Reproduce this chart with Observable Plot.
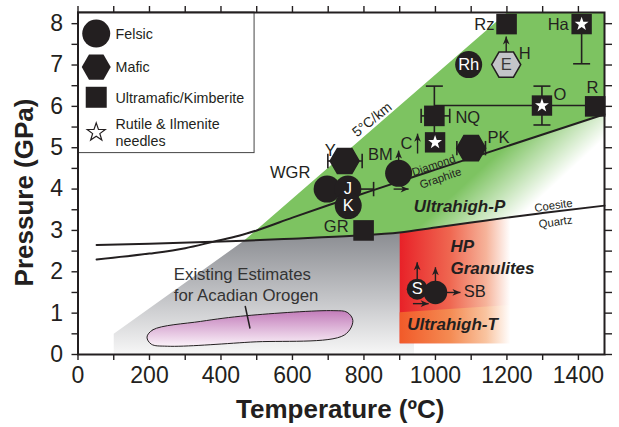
<!DOCTYPE html>
<html><head><meta charset="utf-8">
<script src="https://cdn.jsdelivr.net/npm/d3@7"></script>
<script src="https://cdn.jsdelivr.net/npm/@observablehq/plot@0.6"></script>
<style>body{margin:0;background:#fff} #chart{width:619px;height:427px}</style>
</head><body><div id="chart"></div>
<script>
// ---------- data (Temperature °C, Pressure GPa) ----------
const xDomain = [0, 1473];
const yDomain = [0, 8.27];
const xTickLabels = [0, 200, 400, 600, 800, 1000, 1200, 1400];
const yTickLabels = [0, 1, 2, 3, 4, 5, 6, 7, 8];

const diamondGraphite = [[52,2.30],[200,2.44],[300,2.57],[380,2.73],[450,2.87],[500,3.00],[600,3.31],[700,3.61],[818,3.95],[1000,4.47],[1473,5.81]];
const coesiteQuartz = [[52,2.65],[200,2.68],[400,2.73],[464,2.75],[600,2.80],[771,2.87],[900,2.95],[1000,3.07],[1100,3.19],[1200,3.31],[1300,3.42],[1473,3.60]];
const geotherm5 = [[464,2.75],[1200,8.27]];
const frameTopRight = [[1473,8.27]];
const grayRegion = [[100,0],[100,0.5],[464,2.75],[600,2.80],[771,2.87],[900,2.95],[940,2.99],[940,0]];
const hpGranulite = [[900,0.27],[900,2.95],[1000,3.07],[1100,3.19],[1210,3.32],[1210,0.27]];
const uhtRegion = [[900,0.27],[900,1.02],[1210,1.20],[1210,0.27]];
const acadian = [[193,0.42],[210,0.60],[343,0.80],[473,0.94],[716,1.06],[753,1.02],[769,0.82],[745,0.47],[482,0.30],[250,0.20],[205,0.25]];
const acadianPointer = [[468,1.16],[481,0.64]];

const felsic = [
  {id:"WGR", T:697, P:4.00}, {id:"J", T:755, P:4.00}, {id:"K", T:756, P:3.60},
  {id:"BM", T:897, P:4.38}, {id:"Rh", T:1093, P:7.01}
];
const felsicS = [{id:"S", T:949, P:1.58}];
const felsicSB = [{id:"SB", T:1000, P:1.50}];
const mafic = [{id:"Y", T:746, P:4.68}, {id:"PK", T:1100, P:4.99}, {id:"E", T:1198, P:7.01}];
const ultramafic = [{id:"GR", T:799, P:3.00}, {id:"NQ", T:997, P:5.77}, {id:"R", T:1447, P:6.00}, {id:"Rz", T:1199, P:7.99}];
const needles = [{id:"C", T:999, P:5.13}, {id:"O", T:1298, P:6.02}, {id:"Ha", T:1409, P:7.99}];

const errH = [{T1:699, T2:795, P:4.68}, {T1:755, T2:827, P:4.00}, {T1:960, T2:1040, P:5.77}, {T1:1060, T2:1140, P:4.99}];
const errV = [{T:997, P1:5.13, P2:6.49}, {T:1298, P1:5.55, P2:6.49}, {T:1409, P1:7.03, P2:7.99}];
const tieLine = [{T1:997, T2:1447, P:6.02}];

const arrows = [
  {T1:897, P1:4.38, T2:897, P2:4.93, dir:"up"},
  {T1:883, P1:4.00, T2:925, P2:4.00, dir:"right"},
  {T1:950, P1:4.86, T2:950, P2:5.34, dir:"up"},
  {T1:1198, P1:7.01, T2:1198, P2:7.69, dir:"up"},
  {T1:949, P1:1.58, T2:949, P2:2.23, dir:"up"},
  {T1:1000, P1:1.50, T2:1000, P2:2.11, dir:"up"},
  {T1:937, P1:1.23, T2:981, P2:1.23, dir:"right"},
  {T1:1000, P1:1.50, T2:1070, P2:1.50, dir:"right"}
];

const pointLabels = [
  {text:"WGR", T:650, P:4.39, anchor:"end"}, {text:"Y", T:706, P:4.93, anchor:"middle"},
  {text:"BM", T:846, P:4.84, anchor:"middle"}, {text:"GR", T:757, P:3.10, anchor:"end"},
  {text:"C", T:919, P:5.10, anchor:"middle"}, {text:"NQ", T:1056, P:5.72, anchor:"start"},
  {text:"PK", T:1146, P:5.24, anchor:"start"}, {text:"O", T:1348, P:6.29, anchor:"middle"},
  {text:"R", T:1439, P:6.44, anchor:"middle"}, {text:"Rz", T:1165, P:7.98, anchor:"end"},
  {text:"Ha", T:1373, P:7.98, anchor:"end"}, {text:"H", T:1250, P:7.28, anchor:"middle"},
  {text:"SB", T:1079, P:1.51, anchor:"start"}
];
const innerLabels = [{text:"J", T:755, P:4.0}, {text:"K", T:756, P:3.6}, {text:"Rh", T:1093, P:7.01}, {text:"S", T:949, P:1.58}];
const grayInnerLabels = [{text:"E", T:1198, P:7.01}];
const regionLabels = [
  {text:"Ultrahigh-P", T:939, P:3.58}, {text:"HP", T:1042, P:2.62},
  {text:"Granulites", T:1042, P:2.09}, {text:"Ultrahigh-T", T:921, P:0.72}
];
const lineLabels = [
  {text:"Diamond", T:995, P:4.57, angle:-19}, {text:"Graphite", T:1014, P:4.26, angle:-19},
  {text:"Coesite", T:1330, P:3.60, angle:-8}, {text:"Quartz", T:1336, P:3.20, angle:-8}
];
const geothermLabel = [{text:"5°C/km", T:823, P:5.68, angle:-39}];
const acadianLabel = [{text:"Existing Estimates\nfor Acadian Orogen", T:268, P:1.71}];

// legend layout (data units of the plot)
const legendBox = [{T1:0, T2:494, P1:4.87, P2:8.27}];
const legendItems = [
  {label:"Felsic", kind:"felsic", P:7.76},
  {label:"Mafic", kind:"mafic", P:6.95},
  {label:"Ultramafic/Kimberite", kind:"ultramafic", P:6.22},
  {label:"Rutile & Ilmenite\nneedles", kind:"needle", P:5.37}
];
const legendSymbolT = 51, legendTextT = 105;

// ---------- symbols ----------
const hexFlat = {draw(c, s){const R=Math.sqrt(s/Math.PI); for(let i=0;i<6;i++){const a=i*Math.PI/3; const x=R*Math.cos(a), y=R*Math.sin(a); i?c.lineTo(x,y):c.moveTo(x,y);} c.closePath();}};
const squareSym = {draw(c, s){const R=Math.sqrt(s/Math.PI); c.moveTo(-R,-R); c.lineTo(R,-R); c.lineTo(R,R); c.lineTo(-R,R); c.closePath();}};
const starSym = {draw(c, s){const R=Math.sqrt(s/Math.PI), r=R*0.4; for(let i=0;i<10;i++){const a=-Math.PI/2+i*Math.PI/5; const rr=i%2?r:R; const x=rr*Math.cos(a), y=rr*Math.sin(a); i?c.lineTo(x,y):c.moveTo(x,y);} c.closePath();}};
const vCap = {draw(c, s){const R=Math.sqrt(s/Math.PI); c.moveTo(0,-R); c.lineTo(0,R);}};
const hCap = {draw(c, s){const R=Math.sqrt(s/Math.PI); c.moveTo(-R,0); c.lineTo(R,0);}};
const headSym = {draw(c, s){const L=Math.sqrt(s/Math.PI); c.moveTo(0,0); c.lineTo(L*0.42,L); c.lineTo(0,L*0.72); c.lineTo(-L*0.42,L); c.closePath();}};

const INK = "#231f20";
const FONT = "'Liberation Sans', Arial, Helvetica, sans-serif";
const GREEN = "#7dc361";

// ---------- derived polygons ----------
const uhpRegion = [...coesiteQuartz.filter(d=>d[0]>=464), ...frameTopRight, geotherm5[1]];
const fadeRegion = [...diamondGraphite.filter(d=>d[0]>=450), ...coesiteQuartz.filter(d=>d[0]>=464).reverse()];

function defs(index, scales) {
  const d = d3.create("svg:defs");
  const lin = (id, x1, y1, x2, y2, stops, units) => {
    const g = d.append("linearGradient").attr("id", id)
      .attr("x1", x1).attr("y1", y1).attr("x2", x2).attr("y2", y2);
    if (units) g.attr("gradientUnits", units);
    for (const [o, c, op] of stops) g.append("stop").attr("offset", o).attr("stop-color", c).attr("stop-opacity", op ?? 1);
  };
  lin("grayG", 0, 0, 0, 1, [[0,"#898b90"],[0.55,"#c4c5c8"],[1,"#f7f7f7"]]);
  lin("redG", 0, 0, 1, 0, [[0,"#e82128"],[0.45,"#ef6650"],[0.78,"#f6b39a"],[1,"#ffffff"]]);
  lin("orangeG", 0, 0, 1, 0, [[0,"#f15a29"],[0.45,"#f48a52"],[0.78,"#f9c4a0"],[1,"#ffffff"]]);
  lin("purpleG", 0, 0, 0, 1, [[0,"#c27cba"],[1,"#fbf2f9"]]);
  lin("fadeG", scales.x(1039), scales.y(3.78), scales.x(1156), scales.y(2.69),
      [[0,"#ffffff",0],[1,"#ffffff",1]], "userSpaceOnUse");
  return d.node();
}

const poly = (data, fill, extra={}) => Plot.line(data, {x: d=>d[0], y: d=>d[1], fill, stroke: "none", ...extra});
const legendOf = kind => legendItems.filter(d => d.kind === kind);
const labelsAnchored = a => Plot.text(pointLabels.filter(d => d.anchor === a), {x:"T", y:"P", text:"text", textAnchor: a, fill: INK, fontSize: 16.5});

const plot = Plot.plot({
  width: 619, height: 427,
  marginLeft: 77.5, marginRight: 15, marginTop: 12, marginBottom: 73,
  x: {domain: xDomain, label: null},
  y: {domain: yDomain, label: null},
  style: {fontFamily: FONT, background: "white", color: INK},
  marks: [
    defs,
    poly(grayRegion, "url(#grayG)"),
    poly(uhpRegion, GREEN),
    poly(fadeRegion, "url(#fadeG)"),
    poly(hpGranulite, "url(#redG)"),
    poly(uhtRegion, "url(#orangeG)"),
    Plot.line(acadian, {x: d=>d[0], y: d=>d[1], curve: "catmull-rom-closed", fill: "url(#purpleG)", stroke: INK, strokeWidth: 1}),
    Plot.line(acadianPointer, {x: d=>d[0], y: d=>d[1], stroke: INK, strokeWidth: 1.5}),
    Plot.line(coesiteQuartz, {x: d=>d[0], y: d=>d[1], curve: "monotone-x", stroke: INK, strokeWidth: 2}),
    Plot.line(diamondGraphite, {x: d=>d[0], y: d=>d[1], curve: "monotone-x", stroke: INK, strokeWidth: 2}),

    // legend
    Plot.rect(legendBox, {x1:"T1", x2:"T2", y1:"P1", y2:"P2", fill:"white", stroke:"#444", strokeWidth:1}),
    Plot.dot(legendOf("felsic"), {x: () => legendSymbolT, y: "P", r: 14, fill: INK}),
    Plot.dot(legendOf("mafic"), {x: () => legendSymbolT, y: "P", symbol: hexFlat, r: 14.5, fill: INK}),
    Plot.dot(legendOf("ultramafic"), {x: () => legendSymbolT, y: "P", symbol: squareSym, r: 10.5, fill: INK}),
    Plot.dot(legendOf("needle"), {x: () => legendSymbolT, y: "P", symbol: starSym, r: 9.5, fill: "white", stroke: INK, strokeWidth: 1.2}),
    Plot.text(legendItems, {x: () => legendTextT, y: "P", text: "label", textAnchor: "start", fontSize: 14.3, lineHeight: 1.17, fill: INK}),

    // error bars & tie line
    Plot.link(tieLine, {x1:"T1", x2:"T2", y1:"P", y2:"P", stroke: INK, strokeWidth: 1.6}),
    Plot.link(errH, {x1:"T1", x2:"T2", y1:"P", y2:"P", stroke: INK, strokeWidth: 1.6}),
    Plot.link(errV, {x1:"T", x2:"T", y1:"P1", y2:"P2", stroke: INK, strokeWidth: 1.6}),
    Plot.dot(errH.flatMap(d => [{T:d.T1, P:d.P}, {T:d.T2, P:d.P}]), {x:"T", y:"P", symbol: vCap, r: 7.2, stroke: INK, strokeWidth: 1.6, fill: "none"}),
    Plot.dot(errV.flatMap(d => [{T:d.T, P:d.P1}, {T:d.T, P:d.P2}]), {x:"T", y:"P", symbol: hCap, r: 8.5, stroke: INK, strokeWidth: 1.6, fill: "none"}),

    // arrows
    Plot.link(arrows, {x1:"T1", y1:"P1", x2:"T2", y2:"P2", stroke: INK, strokeWidth: 1.4}),
    Plot.dot(arrows, {x:"T2", y:"P2", symbol: headSym, r: 8, rotate: d => d.dir === "up" ? 0 : 90, fill: INK, stroke: "none"}),

    // markers
    Plot.dot(ultramafic, {x:"T", y:"P", symbol: squareSym, r: 10.3, fill: INK}),
    Plot.dot(needles, {x:"T", y:"P", symbol: squareSym, r: 10.2, fill: INK}),
    Plot.dot(needles, {x:"T", y:"P", symbol: starSym, r: 7.3, fill: "white"}),
    Plot.dot(mafic, {x:"T", y:"P", symbol: hexFlat, r: 14.5, fill: d => d.id === "E" ? "#c3c5c8" : INK, stroke: INK, strokeWidth: 1.5}),
    Plot.dot(felsic, {x:"T", y:"P", r: 13.5, fill: INK}),
    Plot.dot(felsicS, {x:"T", y:"P", r: 10.5, fill: INK}),
    Plot.dot(felsicSB, {x:"T", y:"P", r: 11.8, fill: INK}),

    // texts
    Plot.text(innerLabels, {x:"T", y:"P", text:"text", fill:"white", fontSize: 16.5}),
    Plot.text(grayInnerLabels, {x:"T", y:"P", text:"text", fill:"#3a3a3a", fontSize: 16.5}),
    labelsAnchored("start"), labelsAnchored("middle"), labelsAnchored("end"),
    Plot.text(regionLabels, {x:"T", y:"P", text:"text", textAnchor:"start", fill: INK, fontSize: 17, fontWeight:"bold", fontStyle:"italic"}),
    Plot.text(lineLabels, {x:"T", y:"P", text:"text", rotate:"angle", fill: INK, fontSize: 11.3}),
    Plot.text(geothermLabel, {x:"T", y:"P", text:"text", rotate:"angle", fill: INK, fontSize: 14}),
    Plot.text(acadianLabel, {x:"T", y:"P", text:"text", textAnchor:"start", fill:"#333", fontSize: 16.8, lineHeight: 1.28}),

    // frame & axes
    Plot.frame({stroke: INK, strokeWidth: 2}),
    Plot.axisX({ticks: xTickLabels, tickFormat: "d", tickSize: 6, tickPadding: 6, fontSize: 23, label: null, strokeWidth: 1.4}),
    Plot.axisX({ticks: d3.range(100, 1401, 200), tickSize: 6, tickFormat: () => "", label: null, strokeWidth: 1.4}),
    Plot.axisX({anchor: "top", ticks: d3.range(0, 1401, 100), tickSize: 7, tickFormat: () => "", label: null, strokeWidth: 1.4}),
    Plot.axisY({ticks: yTickLabels, tickFormat: "d", tickSize: 6, tickPadding: 9, fontSize: 23, label: null, strokeWidth: 1.4}),
    Plot.axisY({ticks: d3.range(0.5, 8.1, 1), tickSize: 6, tickFormat: () => "", label: null, strokeWidth: 1.4}),
    Plot.axisY({anchor: "right", ticks: d3.range(0, 8.01, 0.5), tickSize: 7, tickFormat: () => "", label: null, strokeWidth: 1.4}),
    Plot.text(["Temperature (ºC)"], {frameAnchor: "bottom", dy: 63, dx: -1, text: d => d, textAnchor: "middle", fontSize: 26, fontWeight: "bold", fill: INK}),
    Plot.text(["Pressure (GPa)"], {frameAnchor: "left", dx: -53, dy: 9, rotate: -90, text: d => d, textAnchor: "middle", lineAnchor: "middle", fontSize: 26, fontWeight: "bold", fill: INK})
  ]
});
document.getElementById("chart").appendChild(plot);
</script></body></html>
